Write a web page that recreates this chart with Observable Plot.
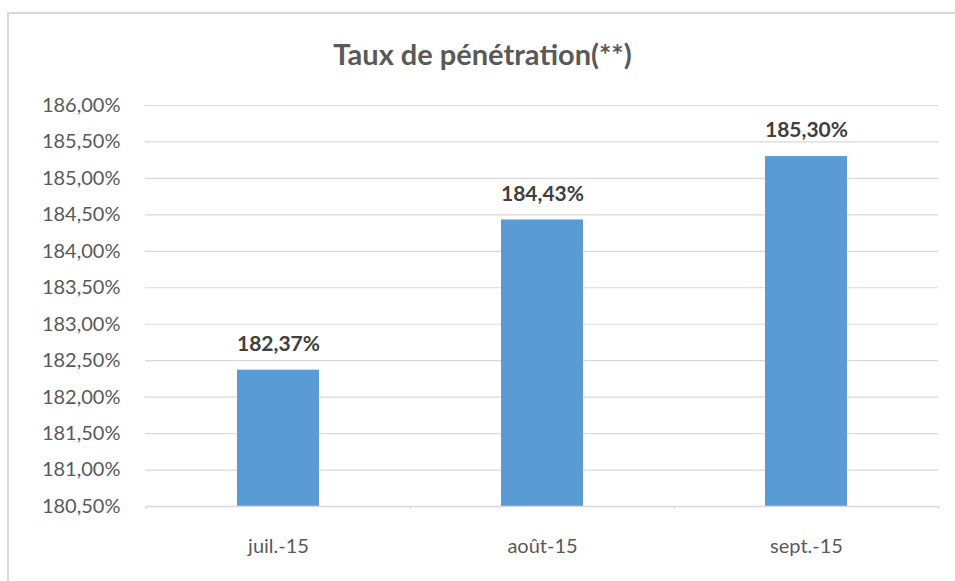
<!DOCTYPE html>
<html>
<head>
<meta charset="utf-8">
<script src="https://cdn.jsdelivr.net/npm/d3@7"></script>
<script src="https://cdn.jsdelivr.net/npm/@observablehq/plot@0.6"></script>
<style>
  html, body { margin: 0; padding: 0; background: #fff; overflow: hidden; width: 955px; height: 581px; }
  #frame { position: absolute; left: 7px; top: 12px; width: 1000px; height: 620px; border: 2px solid #d9d9d9; box-sizing: border-box; }
  #title { position: absolute; left: 0; top: 36px; width: 965px; text-align: center; font-family: Lato, "Open Sans", sans-serif; font-weight: bold; font-size: 29px; line-height: 36px; color: #595959; }
  #chart { position: absolute; left: 0; top: 80px; }
</style>
</head>
<body>
<div id="frame"></div>
<div id="title">Taux de pénétration(**)</div>
<div id="chart"></div>
<script>
const categories = ["juil.-15", "août-15", "sept.-15"];
const values = [182.37, 184.43, 185.30];
const yTicks = [180.5, 181, 181.5, 182, 182.5, 183, 183.5, 184, 184.5, 185, 185.5, 186];
const yMin = 180.5, yMax = 186;

const data = categories.map((c, i) => ({cat: c, v: values[i]}));
const fmt = d => d.toFixed(2).replace(".", ",") + "%";

const W = 955, H = 501, mL = 145, mR = 17;
const step = (W - mL - mR) / categories.length;

const chart = Plot.plot({
  width: W, height: H,
  marginLeft: mL, marginRight: mR, marginTop: 25, marginBottom: 75,
  style: { fontFamily: "Lato, 'Open Sans', sans-serif", fontSize: "20px", color: "#595959", background: "transparent" },
  x: { domain: categories, paddingInner: 0.69, paddingOuter: 0.345, label: null },
  y: { domain: [yMin, yMax], label: null },
  marks: [
    Plot.gridY(yTicks.slice(1), { stroke: "#d9d9d9", strokeOpacity: 1, strokeWidth: 1.2 }),
    Plot.axisY(yTicks, { tickSize: 0, tickPadding: 25, tickFormat: fmt, fill: "#595959", fontSize: 20, label: null }),
    Plot.axisX({ tickSize: 0, tickPadding: 32, fill: "#595959", fontSize: 20, label: null }),
    Plot.barY(data, { x: "cat", y1: yMin, y2: "v", fill: "#5b9bd5" }),
    Plot.ruleY([yMin], { stroke: "#d9d9d9", strokeWidth: 1.5 }),
    Plot.ruleX(categories, { x: d => d, y1: yMin, y2: yMin - 0.042, dx: -step / 2, stroke: "#d9d9d9", strokeWidth: 1.5 }),
    Plot.ruleX(categories.slice(-1), { x: d => d, y1: yMin, y2: yMin - 0.042, dx: step / 2, stroke: "#d9d9d9", strokeWidth: 1.5 }),
    Plot.text(data, { x: "cat", y: "v", text: d => fmt(d.v), dy: -26, fontWeight: "bold", fontSize: 21, fill: "#404040" })
  ]
});
document.getElementById("chart").appendChild(chart);
</script>
</body>
</html>
